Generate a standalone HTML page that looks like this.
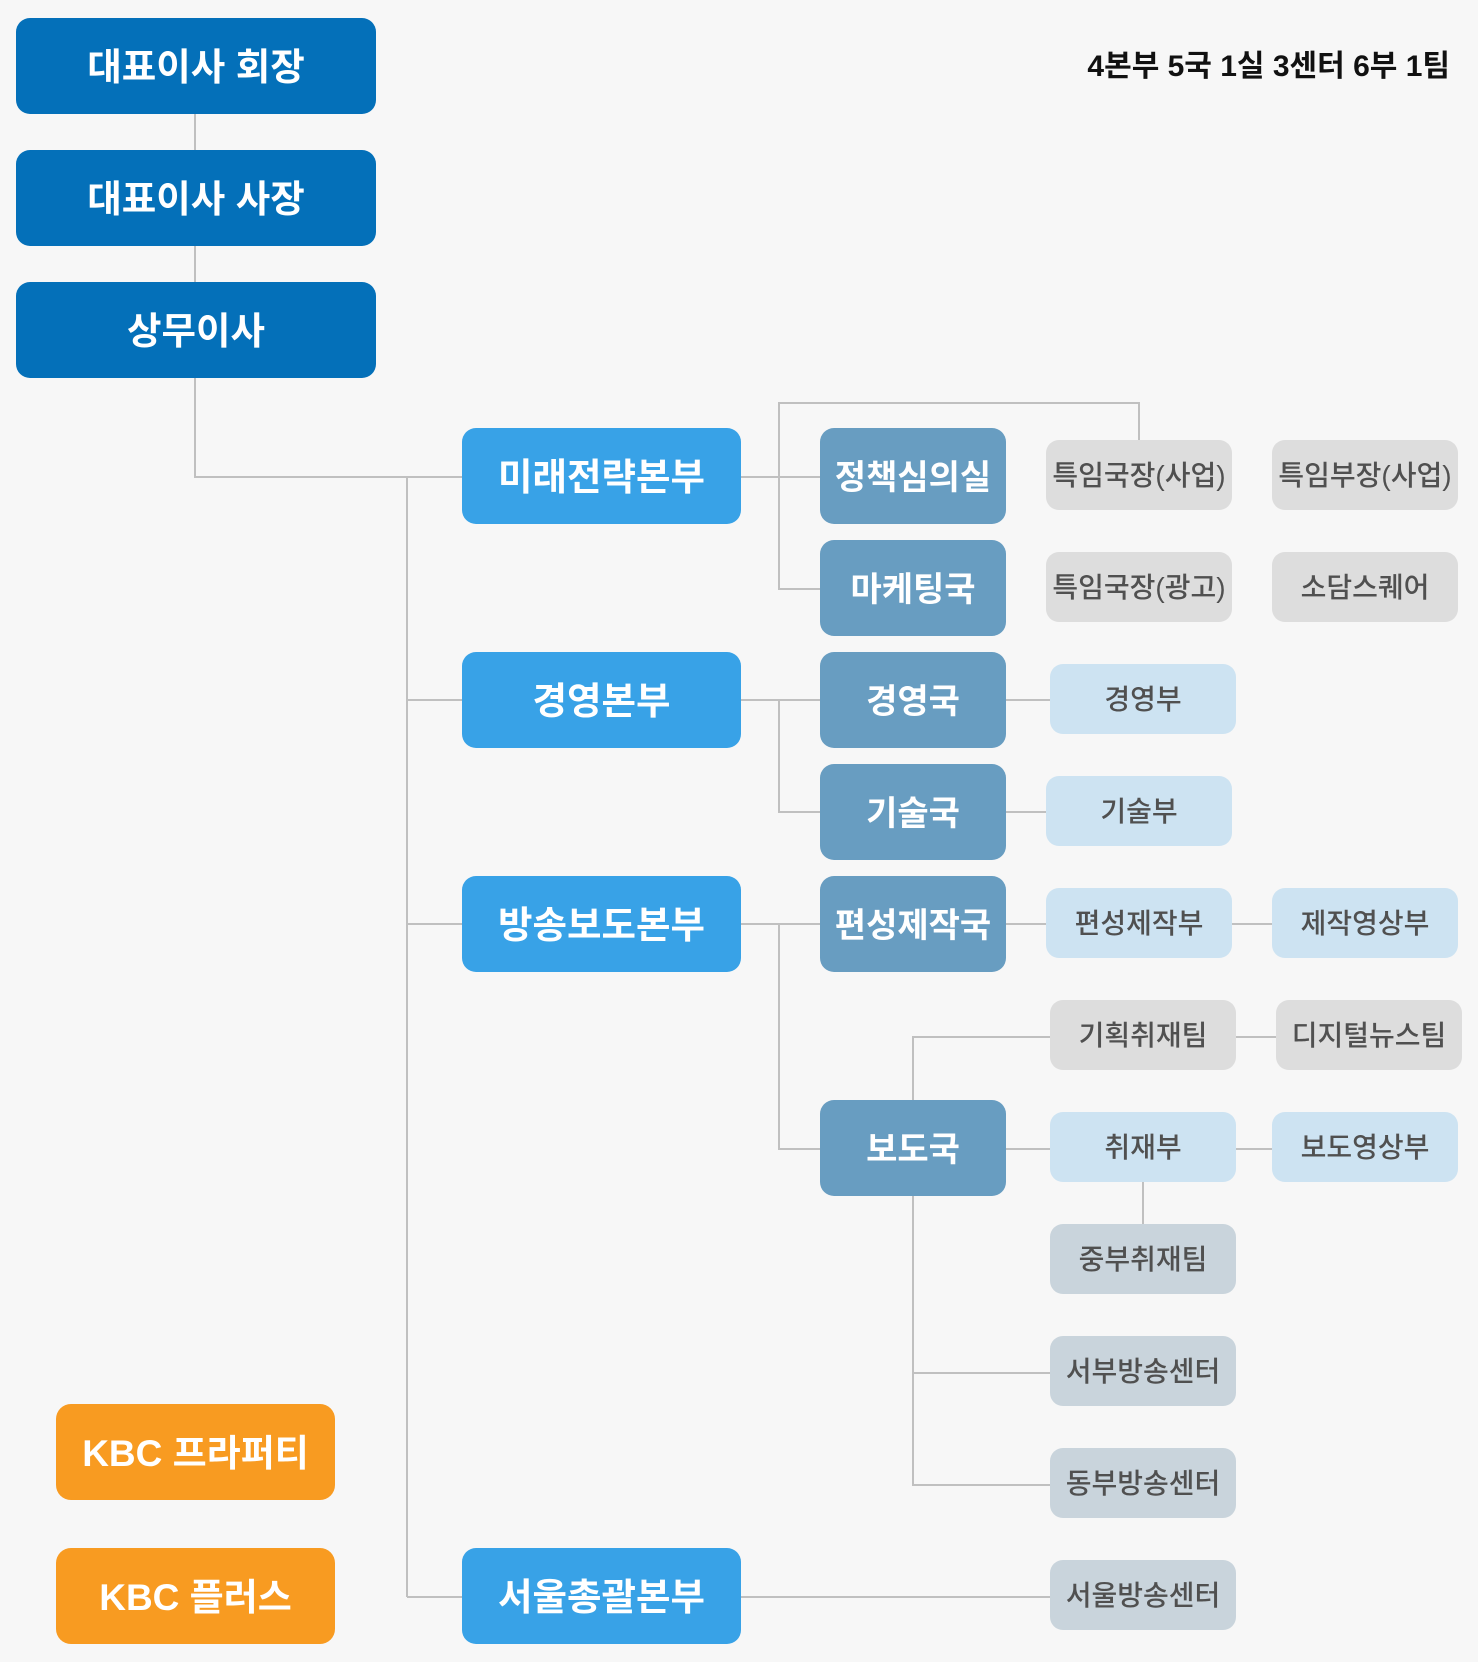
<!DOCTYPE html>
<html><head><meta charset="utf-8">
<style>
html,body{margin:0;padding:0;}
body{width:1478px;height:1662px;background:#f7f7f7;position:relative;overflow:hidden;font-family:"Liberation Sans","Noto Sans CJK KR",sans-serif;}
.b{position:absolute;display:flex;align-items:center;justify-content:center;box-sizing:border-box;white-space:nowrap;line-height:1;padding-top:3px;}
.top{left:16px;width:360px;height:96px;background:#0470b9;color:#fff;font-weight:bold;font-size:37.5px;border-radius:14px;}
.hq{left:462px;width:279px;height:96px;background:#38a2e7;color:#fff;font-weight:bold;font-size:37.5px;border-radius:14px;}
.dp{left:820px;width:186px;height:96px;background:#689dc1;color:#fff;font-weight:bold;font-size:34px;border-radius:14px;}
.sm{width:186px;height:70px;color:#505050;font-size:28px;border-radius:13px;font-weight:500;padding-top:2px;}
.g{background:#dddddd;}
.lb{background:#cde3f2;}
.gb{background:#c9d4dc;}
.or{left:56px;width:279px;height:96px;background:#f89b21;color:#fff;font-weight:bold;font-size:37px;border-radius:15px;}
.hdr{position:absolute;left:1000px;width:450px;top:49px;height:36px;text-align:right;font-size:30px;font-weight:bold;color:#111;line-height:36px;white-space:nowrap;}
svg{position:absolute;left:0;top:0;}
</style></head><body>
<svg width="1478" height="1662" viewBox="0 0 1478 1662">
<g stroke="#c0c0c0" stroke-width="2" fill="none">
<path d="M195 100 V477 H462"/>
<path d="M407 477 V1597"/>
<path d="M407 700 H462 M407 924 H462 M407 1597 H462"/>
<path d="M741 477 H820 M741 700 H820 M741 924 H820"/>
<path d="M820 589 H779 V403 H1139 V440"/>
<path d="M779 700 V812 H820"/>
<path d="M779 924 V1149 H820"/>
<path d="M1006 700 H1050 M1006 812 H1046 M1006 924 H1046 M1232 924 H1272"/>
<path d="M913 1100 V1037 H1050 M1236 1037 H1276"/>
<path d="M1006 1149 H1050 M1236 1149 H1272"/>
<path d="M1143 1182 V1224"/>
<path d="M913 1196 V1485 H1050 M913 1373 H1050"/>
<path d="M741 1597 H1050"/>
</g>
</svg>

<div class="hdr">4본부 5국 1실 3센터 6부 1팀</div>

<div class="b top" style="top:18px;">대표이사 회장</div>
<div class="b top" style="top:150px;">대표이사 사장</div>
<div class="b top" style="top:282px;">상무이사</div>

<div class="b hq" style="top:428px;">미래전략본부</div>
<div class="b hq" style="top:652px;">경영본부</div>
<div class="b hq" style="top:876px;">방송보도본부</div>
<div class="b hq" style="top:1548px;">서울총괄본부</div>

<div class="b or" style="top:1404px;">KBC 프라퍼티</div>
<div class="b or" style="top:1548px;">KBC 플러스</div>

<div class="b dp" style="top:428px;">정책심의실</div>
<div class="b dp" style="top:540px;">마케팅국</div>
<div class="b dp" style="top:652px;">경영국</div>
<div class="b dp" style="top:764px;">기술국</div>
<div class="b dp" style="top:876px;">편성제작국</div>
<div class="b dp" style="top:1100px;">보도국</div>

<div class="b sm g" style="left:1046px;top:440px;">특임국장(사업)</div>
<div class="b sm g" style="left:1272px;top:440px;">특임부장(사업)</div>
<div class="b sm g" style="left:1046px;top:552px;">특임국장(광고)</div>
<div class="b sm g" style="left:1272px;top:552px;">소담스퀘어</div>

<div class="b sm lb" style="left:1050px;top:664px;">경영부</div>
<div class="b sm lb" style="left:1046px;top:776px;">기술부</div>
<div class="b sm lb" style="left:1046px;top:888px;">편성제작부</div>
<div class="b sm lb" style="left:1272px;top:888px;">제작영상부</div>

<div class="b sm g" style="left:1050px;top:1000px;">기획취재팀</div>
<div class="b sm g" style="left:1276px;top:1000px;">디지털뉴스팀</div>

<div class="b sm lb" style="left:1050px;top:1112px;">취재부</div>
<div class="b sm lb" style="left:1272px;top:1112px;">보도영상부</div>

<div class="b sm gb" style="left:1050px;top:1224px;">중부취재팀</div>
<div class="b sm gb" style="left:1050px;top:1336px;">서부방송센터</div>
<div class="b sm gb" style="left:1050px;top:1448px;">동부방송센터</div>
<div class="b sm gb" style="left:1050px;top:1560px;">서울방송센터</div>
</body></html>
